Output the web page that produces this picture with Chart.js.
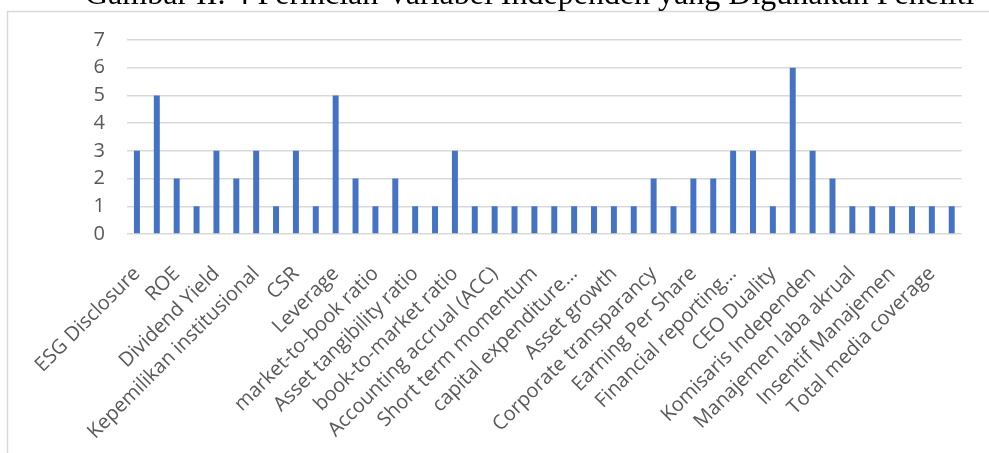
<!DOCTYPE html>
<html>
<head>
<meta charset="utf-8">
<script src="https://cdn.jsdelivr.net/npm/chart.js@4/dist/chart.umd.min.js"></script>
<style>
  html, body { margin: 0; padding: 0; background: #ffffff; }
  #wrap { position: relative; width: 989px; height: 453px; }
  canvas { display: block; }
</style>
</head>
<body>
<div id="wrap"><canvas id="chart" width="989" height="453"></canvas></div>
<script>
// Variabel independen (kategori); label kosong tidak ditampilkan di sumbu
const categories = [
  'ESG Disclosure', '', 'ROE', '', 'Dividend Yield', '',
  'Kepemilikan institusional', '', 'CSR', '', 'Leverage', '',
  'market-to-book ratio', '', 'Asset tangibility ratio', '', 'book-to-market ratio', '',
  'Accounting accrual (ACC)', '', 'Short term momentum', '', 'capital expenditure…', '',
  'Asset growth', '', 'Corporate transparancy', '', 'Earning Per Share', '',
  'Financial reporting…', '', 'CEO Duality', '', 'Komisaris Independen', '',
  'Manajemen laba akrual', '', 'Insentif Manajemen', '', 'Total media coverage', ''
];

// Jumlah penelitian yang menggunakan tiap variabel
const counts = [
  3, 5, 2, 1, 3, 2, 3, 1, 3, 1, 5, 2, 1, 2,
  1, 1, 3, 1, 1, 1, 1, 1, 1, 1, 1, 1, 2, 1,
  2, 2, 3, 3, 1, 6, 3, 2, 1, 1, 1, 1, 1, 1
];

const yTicks = [0, 1, 2, 3, 4, 5, 6, 7];

const titleText = 'Gambar II. 4 Perincian Variabel Independen yang Digunakan Peneliti';

// Bingkai area grafik dan judul gambar
const frameAndTitle = {
  id: 'frameAndTitle',
  beforeDraw(chart) {
    const ctx = chart.ctx;
    ctx.save();
    ctx.fillStyle = '#ffffff';
    ctx.fillRect(0, 0, chart.width, chart.height);
    ctx.strokeStyle = '#d9d9d9';
    ctx.lineWidth = 1.5;
    ctx.strokeRect(7.5, 11.5, 1100, 600);
    ctx.fillStyle = '#000000';
    ctx.font = '32px "Liberation Serif", "Times New Roman", serif';
    ctx.textAlign = 'left';
    ctx.textBaseline = 'alphabetic';
    ctx.fillText(titleText, 85, 4);
    ctx.restore();
  }
};

new Chart(document.getElementById('chart'), {
  type: 'bar',
  data: {
    labels: categories,
    datasets: [{
      data: counts,
      backgroundColor: '#4472c4',
      borderWidth: 0,
      barPercentage: 0.3,
      categoryPercentage: 1.0
    }]
  },
  options: {
    responsive: false,
    animation: false,
    devicePixelRatio: 1,
    layout: { padding: { top: 40, right: 26, left: 0, bottom: 0 } },
    plugins: {
      legend: { display: false },
      tooltip: { enabled: false }
    },
    scales: {
      x: {
        grid: { display: false },
        border: { display: false },
        ticks: {
          autoSkip: false,
          maxRotation: 45,
          minRotation: 45,
          padding: 20,
          color: '#595959',
          font: { family: '"Open Sans", "Noto Sans", sans-serif', size: 20 }
        },
        afterFit(scale) { scale.height = 453 - 234; }
      },
      y: {
        min: 0,
        max: 7,
        afterBuildTicks(scale) { scale.ticks = yTicks.map(v => ({ value: v })); },
        grid: { color: '#d9d9d9', lineWidth: 1.5, drawTicks: false },
        border: { display: false },
        ticks: {
          padding: 22,
          color: '#595959',
          font: { family: '"Open Sans", "Noto Sans", sans-serif', size: 20 }
        },
        afterFit(scale) { scale.width = 127; }
      }
    }
  },
  plugins: [frameAndTitle]
});
</script>
</body>
</html>
